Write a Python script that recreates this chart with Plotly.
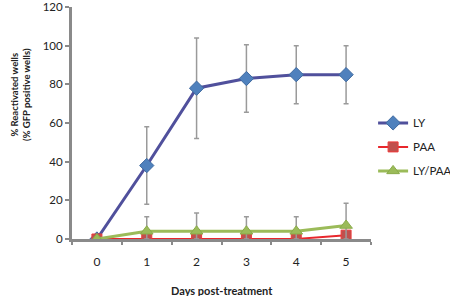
import plotly.graph_objects as go

days = ["0", "1", "2", "3", "4", "5"]
ly = [0, 38, 78, 83, 85, 85]
ly_err = [0, 20, 26, 17.5, 15, 15]
paa = [0, 0, 0, 0, 0, 2]
lypaa = [0, 4, 4, 4, 4, 7]
lypaa_err = [0, 7.5, 9.5, 7.5, 7.5, 11.5]

FONT = "Lato"
ERR = dict(type="data", visible=True, color="#9a9a9a", thickness=1.5, width=2.5)

fig = go.Figure()
fig.add_trace(go.Scatter(
    x=days, y=ly, name="LY", mode="lines+markers", legendgroup="a",
    line=dict(color="#50509c", width=3),
    marker=dict(symbol="diamond", size=11, color="#4f81bd", line=dict(color="#3f6aa0", width=1)),
    error_y=dict(array=ly_err, arrayminus=ly_err, **ERR),
))
fig.add_trace(go.Scatter(
    x=days, y=paa, name="PAA", mode="lines+markers", legendgroup="b",
    line=dict(color="#e8272c", width=2),
    marker=dict(symbol="square", size=10, color="#c0504d", line=dict(color="#ee3b3b", width=1)),
))
fig.add_trace(go.Scatter(
    x=days, y=lypaa, name="LY/PAA", mode="lines+markers", legendgroup="c",
    line=dict(color="#9bbb59", width=3),
    marker=dict(symbol="triangle-up", size=11, color="#9bbb59", line=dict(color="#8aab4a", width=1)),
    error_y=dict(array=lypaa_err, arrayminus=[min(e, v) for e, v in zip(lypaa_err, lypaa)], **ERR),
))

fig.update_layout(
    width=450, height=296,
    margin=dict(l=72, r=79, t=7, b=57, autoexpand=False),
    paper_bgcolor="white", plot_bgcolor="white",
    font=dict(family=FONT, size=12, color="#222"),
    showlegend=True,
    legend=dict(x=1.007, y=0.397, xanchor="left", yanchor="middle",
                font=dict(family=FONT, size=11.5, color="#222"),
                tracegroupgap=5, bgcolor="rgba(0,0,0,0)", itemwidth=30),
    xaxis=dict(type="category", range=[-0.5, 5.5], showline=True, linecolor="#8a8a8a", linewidth=3,
               ticks="outside", tickson="boundaries", ticklen=3, tickwidth=2, tickcolor="#8a8a8a",
               ticklabelstandoff=10,
               showgrid=False, zeroline=False, automargin=False,
               tickfont=dict(family=FONT, size=12, color="#222")),
    yaxis=dict(range=[0, 120], dtick=20, showline=True, linecolor="#8a8a8a", linewidth=3,
               ticks="outside", ticklen=4, tickwidth=2, tickcolor="#8a8a8a",
               showgrid=False, zeroline=False, automargin=False, ticklabeloverflow="allow",
               tickfont=dict(family=FONT, size=11.5, color="#222")),
    annotations=[
        dict(text="<b>Days post-treatment</b>", xref="paper", yref="paper", x=0.5, y=0,
             xanchor="center", yanchor="top", yshift=-43, showarrow=False,
             font=dict(family=FONT, size=11, color="#222")),
        dict(text="<b>% Reactivated wells<br>(% GFP positive wells)</b>", xref="paper", yref="paper",
             x=0, y=0.621, xanchor="center", yanchor="middle", xshift=-51, textangle=-90,
             showarrow=False, font=dict(family=FONT, size=9.5, color="#222")),
    ],
)

fig.write_html("out.html", config={"displayModeBar": False},
               post_script="document.body.style.margin='0';document.body.style.overflow='hidden';")
